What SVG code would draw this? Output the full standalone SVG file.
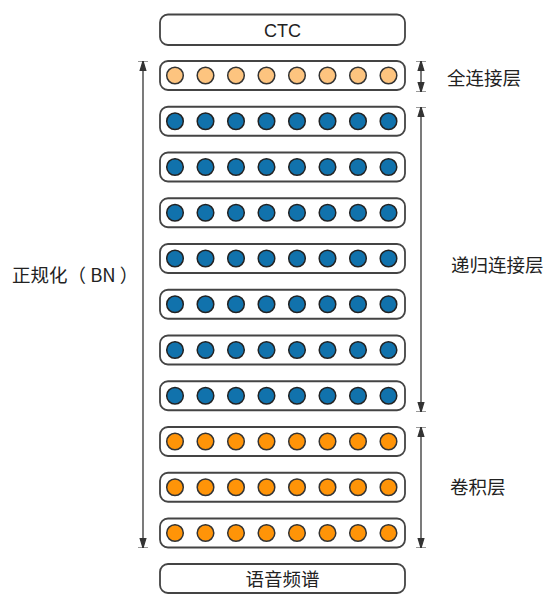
<svg xmlns="http://www.w3.org/2000/svg" width="558" height="594" viewBox="0 0 558 594">
<defs>
<style>
.box{fill:#fff;stroke:#444;stroke-width:1.8}
.fc{fill:#FDC47F;stroke:#333;stroke-width:1.5}
.rnn{fill:#1172AC;stroke:#222;stroke-width:1.5}
.cnn{fill:#FF9408;stroke:#333;stroke-width:1.5}
.t{font-family:"Noto Sans CJK SC","Liberation Sans",sans-serif;font-size:18.5px;fill:#222}
.ln{stroke:#333;stroke-width:1.3;fill:none;marker-start:url(#a);marker-end:url(#a)}
</style>
<marker id="a" viewBox="0 0 10 10" refX="10" refY="5" markerWidth="10" markerHeight="10" markerUnits="userSpaceOnUse" orient="auto-start-reverse">
<path d="M0,2 L10,5 L0,8 Z M10,0 L10,10" fill="#333" stroke="#333" stroke-width="1.2"/>
</marker>
<g id="d8">
<circle cx="175" cy="0" r="8.3"/><circle cx="205.5" cy="0" r="8.3"/><circle cx="236" cy="0" r="8.3"/><circle cx="266.5" cy="0" r="8.3"/><circle cx="297" cy="0" r="8.3"/><circle cx="327.5" cy="0" r="8.3"/><circle cx="358" cy="0" r="8.3"/><circle cx="388.5" cy="0" r="8.3"/>
</g>
</defs>
<rect width="558" height="594" fill="#fff"/>
<g id="ctc"><rect class="box" x="160" y="14.5" width="245" height="30.5" rx="8"/><text x="282.5" y="37" text-anchor="middle" style="font-family:'Liberation Sans',sans-serif;font-size:18px;fill:#222">CTC</text></g>
<g id="fc1"><rect class="box" x="160" y="61" width="245" height="29" rx="8"/><use href="#d8" class="fc" y="75.5"/></g>
<g id="rnn1"><rect class="box" x="160" y="106.75" width="245" height="29" rx="8"/><use href="#d8" class="rnn" y="121.25"/></g>
<g id="rnn2"><rect class="box" x="160" y="152.5" width="245" height="29" rx="8"/><use href="#d8" class="rnn" y="167"/></g>
<g id="rnn3"><rect class="box" x="160" y="198.25" width="245" height="29" rx="8"/><use href="#d8" class="rnn" y="212.75"/></g>
<g id="rnn4"><rect class="box" x="160" y="244" width="245" height="29" rx="8"/><use href="#d8" class="rnn" y="258.5"/></g>
<g id="rnn5"><rect class="box" x="160" y="289.75" width="245" height="29" rx="8"/><use href="#d8" class="rnn" y="304.25"/></g>
<g id="rnn6"><rect class="box" x="160" y="335.5" width="245" height="29" rx="8"/><use href="#d8" class="rnn" y="350"/></g>
<g id="rnn7"><rect class="box" x="160" y="381.25" width="245" height="29" rx="8"/><use href="#d8" class="rnn" y="395.75"/></g>
<g id="cnn1"><rect class="box" x="160" y="427" width="245" height="29" rx="8"/><use href="#d8" class="cnn" y="441.5"/></g>
<g id="cnn2"><rect class="box" x="160" y="472.75" width="245" height="29" rx="8"/><use href="#d8" class="cnn" y="487.25"/></g>
<g id="cnn3"><rect class="box" x="160" y="518.5" width="245" height="29" rx="8"/><use href="#d8" class="cnn" y="533"/></g>
<g id="spec"><rect class="box" x="160" y="564" width="245" height="29" rx="8"/><text class="t" x="282.5" y="586" text-anchor="middle">语音频谱</text></g>
<g id="connectors">
<line class="ln" x1="143" y1="61" x2="143" y2="548"/>
<line class="ln" x1="421" y1="61" x2="421" y2="92"/>
<line class="ln" x1="421" y1="107" x2="421" y2="412"/>
<line class="ln" x1="421" y1="427" x2="421" y2="548"/>
</g>
<g id="labels">
<text class="t" x="447" y="85">全连接层</text>
<text class="t" x="451" y="272">递归连接层</text>
<text class="t" x="450" y="494">卷积层</text>
<text class="t" x="12" y="282">正规化（ BN ）</text>
</g>
</svg>
